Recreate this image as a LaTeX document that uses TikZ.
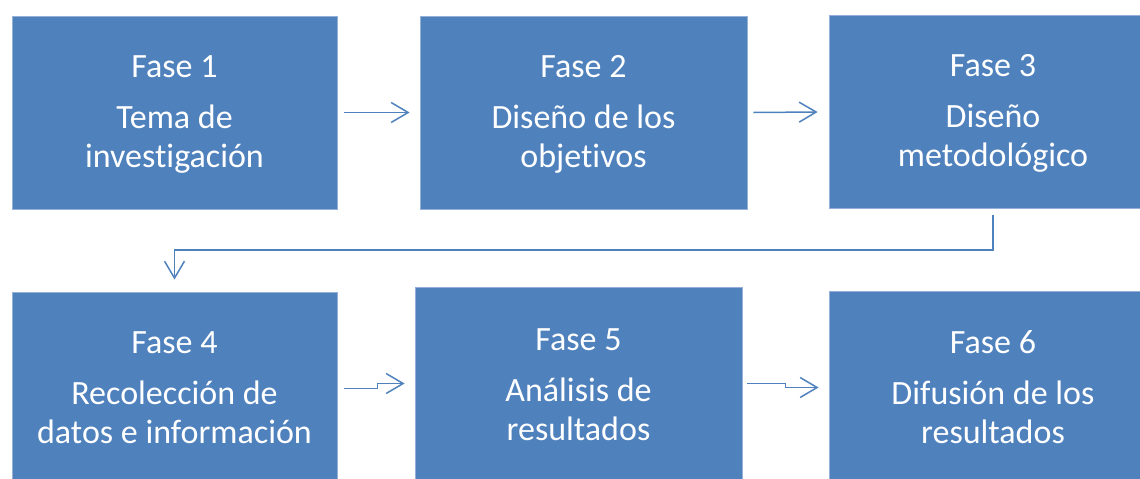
\documentclass[tikz,border=0pt]{standalone}
\usepackage{fontspec}
\setmainfont[Ligatures=NoCommon]{Carlito}
\usetikzlibrary{arrows.meta,calc}
\definecolor{phaseblue}{HTML}{4F81BD}
\definecolor{phaseedge}{HTML}{94B0D8}
\tikzset{
  phasebox/.style={rectangle, fill=phaseblue, draw=phaseedge, line width=0.8pt,
    minimum width=#1, minimum height=193pt, inner sep=0pt},
  phasetext/.style={text=white, align=center, inner sep=0pt,
    font=\fontsize{34}{39}\selectfont, anchor=base},
  flow/.style={draw=phaseblue, line width=1.5pt,
    -{Straight Barb[length=17pt,width=20pt,line width=1.5pt]}}
}
\begin{document}
\begin{tikzpicture}[x=1pt,y=-1pt]
\useasboundingbox (0,0) rectangle (1140,479);
\clip (0,0) rectangle (1140,479);
% boxes
\node[phasebox=325pt] (b1) at (174.5,112.5) {};
\node[phasebox=327pt] (b2) at (583.5,112.5) {};
\node[phasebox=328pt] (b3) at (993,112) {};
\node[phasebox=325pt] (b4) at (174.5,388.5) {};
\node[phasebox=327pt] (b5) at (578.5,383.5) {};
\node[phasebox=328pt] (b6) at (993,387.5) {};
% texts (anchor base = last line)
\node[phasetext] (t1) at ($(b1.center)+(0,54.5)$) {Fase 1\\[12pt]Tema de\\investigación};
\node[phasetext] (t2) at ($(b2.center)+(0,54.5)$) {Fase 2\\[12pt]Diseño de los\\objetivos};
\node[phasetext] (t3) at ($(b3.center)+(0,54.5)$) {Fase 3\\[12pt]Diseño\\metodológico};
\node[phasetext] (t4) at ($(b4.center)+(0,54.5)$) {Fase 4\\[12pt]Recolección de\\datos e información};
\node[phasetext] (t5) at ($(b5.center)+(0,56.5)$) {Fase 5\\[12pt]Análisis de\\resultados};
\node[phasetext] (t6) at ($(b6.center)+(0,55.5)$) {Fase 6\\[12pt]Difusión de los\\resultados};
% connectors
\draw[flow] ($(b1.east)+(7,0)$) -- ($(b2.west)+(-10,0)$);
\draw[flow] ($(b2.east)+(6,0)$) -- ($(b3.west)+(-11,0)$);
\coordinate (c3a) at ($(b3.south)+(0,6)$);
\coordinate (c3b) at ($(b4.north)+(0,-12)$);
\draw[flow] (c3a) -- (c3a |- 0,250) -- (c3b |- 0,250) -- (c3b);
\coordinate (c4a) at ($(b4.east)+(7,0)$);
\coordinate (c4b) at ($(b5.west)+(-10,0)$);
\draw[flow] (c4a) -- ++(33,0) |- (c4b);
\coordinate (c5a) at ($(b5.east)+(5,0)$);
\coordinate (c5b) at ($(b6.west)+(-10,0)$);
\draw[flow] (c5a) -- ++(38,0) |- (c5b);
\end{tikzpicture}
\end{document}
